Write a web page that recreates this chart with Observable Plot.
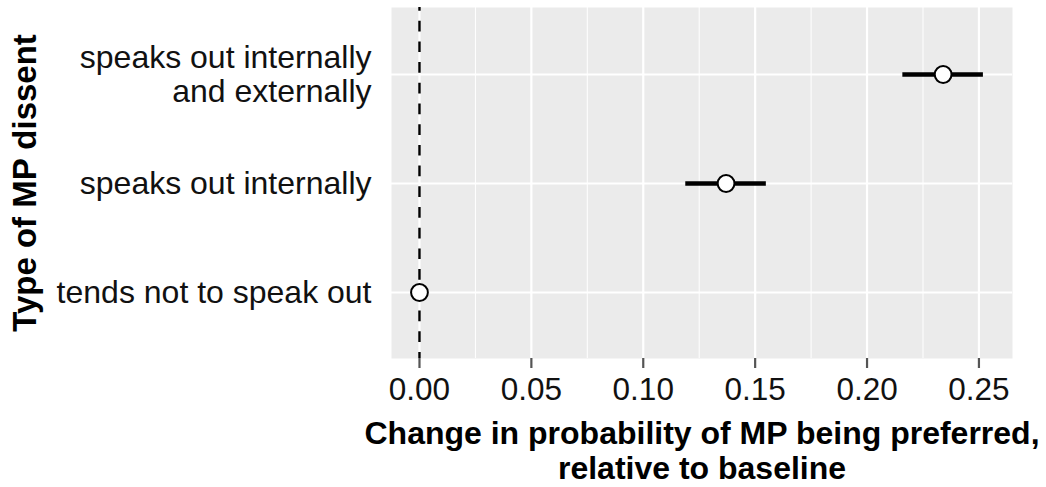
<!DOCTYPE html>
<html>
<head>
<meta charset="utf-8">
<script src="https://cdn.jsdelivr.net/npm/d3@7"></script>
<script src="https://cdn.jsdelivr.net/npm/@observablehq/plot@0.6"></script>
<style>
  html, body { margin: 0; padding: 0; background: #fff; }
</style>
</head>
<body>
<div id="chart"></div>
<script>
// Categories (top to bottom as drawn)
const categories = [
  "speaks out internally\nand externally",
  "speaks out internally",
  "tends not to speak out"
];
// Point estimates and 95% intervals
const estimates = [0.234, 0.137, 0.000];
const lowers = [0.216, 0.119, null];
const uppers = [0.252, 0.155, null];
// Tick values
const xTicks = [0.00, 0.05, 0.10, 0.15, 0.20, 0.25];
const xMinorTicks = [0.025, 0.075, 0.125, 0.175, 0.225];
const xTitle = "Change in probability of MP being preferred,\nrelative to baseline";
const yTitle = "Type of MP dissent";

const rows = categories.map((c, i) => ({cat: c, est: estimates[i], lo: lowers[i], hi: uppers[i]}));
const ciRows = rows.filter(d => d.lo != null);

const FONT = "'Liberation Sans', Arial, Helvetica, sans-serif";

const chart = Plot.plot({
  width: 1046,
  height: 487,
  marginLeft: 391,
  marginRight: 34,
  marginTop: 7,
  marginBottom: 129,
  style: {fontFamily: FONT, background: "#fff", overflow: "visible"},
  x: {domain: [-0.0125, 0.265], axis: null},
  y: {type: "point", domain: categories, padding: 0.6, axis: null},
  marks: [
    Plot.frame({fill: "#EBEBEB", stroke: null}),
    Plot.ruleX(xMinorTicks, {stroke: "#fff", strokeWidth: 1}),
    Plot.ruleX(xTicks, {stroke: "#fff", strokeWidth: 2.2}),
    Plot.ruleY(categories, {y: d => d, stroke: "#fff", strokeWidth: 2.2}),
    Plot.ruleX([0], {stroke: "#000", strokeWidth: 2.4, strokeDasharray: "10.7,10", strokeDashoffset: 7}),
    Plot.ruleY(ciRows, {y: "cat", x1: "lo", x2: "hi", stroke: "#000", strokeWidth: 4.4}),
    Plot.dot(rows, {x: "est", y: "cat", r: 8.4, fill: "#fff", stroke: "#000", strokeWidth: 2}),
    // x axis ticks
    Plot.axisX(xTicks, {tickSize: 10, text: null, color: "#555", strokeWidth: 2.2, label: null}),
    // x axis tick labels
    Plot.axisX(xTicks, {tickSize: 0, tickPadding: 19, tickFormat: d3.format(".2f"), fontSize: 31.5, color: "#111", label: null}),
    // y category labels
    Plot.text(rows, {y: "cat", text: "cat", frameAnchor: "left", textAnchor: "end", dx: -20,
      lineAnchor: "middle", lineHeight: 1.06, fontSize: 32, fill: "#111"}),
    // x title
    Plot.text([xTitle], {frameAnchor: "bottom", textAnchor: "middle", lineAnchor: "top", dy: 61,
      lineHeight: 1.09, fontSize: 32, fontWeight: "bold", fill: "#000"}),
    // y title
    Plot.text([yTitle], {frameAnchor: "left", rotate: -90, textAnchor: "middle", lineAnchor: "top",
      dx: -379, fontSize: 33, fontWeight: "bold", fill: "#000"})
  ]
});
document.getElementById("chart").appendChild(chart);
</script>
</body>
</html>
